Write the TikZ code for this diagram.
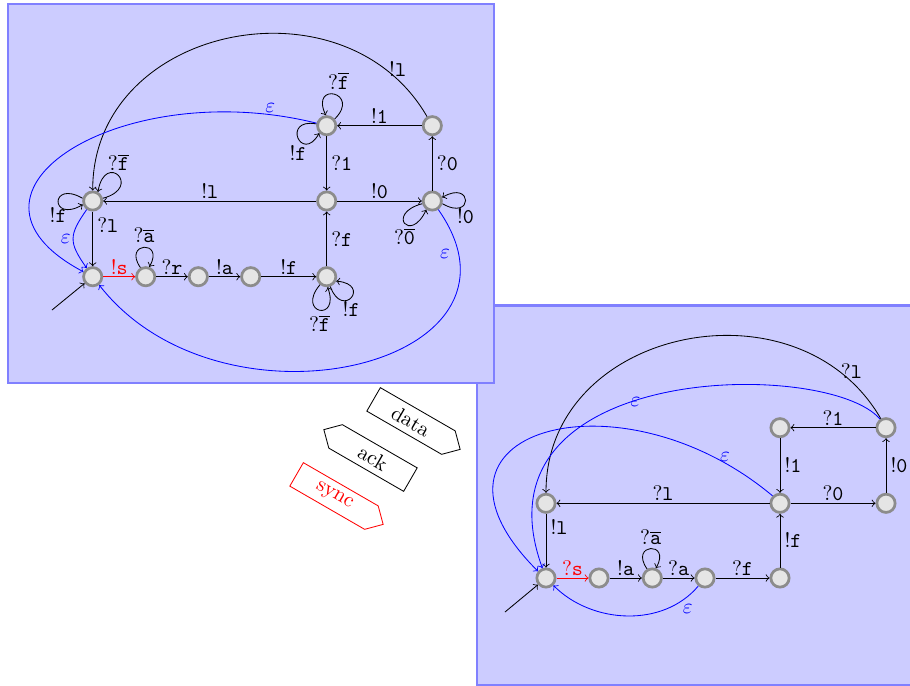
\documentclass[tikz,border=0pt]{standalone}
\usetikzlibrary{shapes.symbols}
\begin{document}
\begin{tikzpicture}[x=0.4762pt,y=0.4762pt,
  st/.style={circle,draw=black!45,fill=black!10,line width=1.3pt,minimum size=8.7pt,inner sep=0pt},
  lb/.style={inner sep=1pt},
  rl/.style={right,inner sep=2pt},
  ll/.style={inner sep=2pt},
  eps/.style={->,blue},
  el/.style={text=blue,inner sep=1pt},
  panel/.style={draw=blue!50,fill=blue!20,line width=1pt},
  sig/.style={signal,draw,rotate=-30,minimum width=47.6pt,minimum height=12.9pt,inner sep=1pt}]
\useasboundingbox (0,0) rectangle (910,-686);
% panels
\path[panel] (477,-305.5) rectangle (916,-685);
\path[panel] (8.3,-4) rectangle (494,-382.7);
% left automaton
\node[st] (A0) at (92.7,-276.7) {};
\node[st] (A1) at (145.7,-276.7) {};
\node[st] (A2) at (198.3,-276.7) {};
\node[st] (A3) at (250.7,-276.7) {};
\node[st] (A4) at (326.7,-276.7) {};
\node[st] (B0) at (92.7,-201) {};
\node[st] (B1) at (326.7,-201) {};
\node[st] (B2) at (432.3,-201) {};
\node[st] (C1) at (326.7,-125.7) {};
\node[st] (C2) at (432.3,-125.7) {};
\coordinate (i0) at (52,-310);
\draw[->] (i0) -- (A0);
\draw[->,red] (A0) -- node[above,lb]{$!\mathtt{s}$} (A1);
\draw[->] (A1) -- node[above,lb]{$?\mathtt{r}$} (A2);
\draw[->] (A2) -- node[above,lb]{$!\mathtt{a}$} (A3);
\draw[->] (A3) -- node[above,lb]{$!\mathtt{f}$} (A4);
\draw[->] (A4) -- node[rl]{$?\mathtt{f}$} (B1);
\draw[->] (B0) -- node[rl,pos=0.25]{$?\mathtt{l}$} (A0);
\draw[->] (B1) -- node[above,lb]{$!\mathtt{l}$} (B0);
\draw[->] (B1) -- node[above,lb]{$!\mathtt{0}$} (B2);
\draw[->] (B2) -- node[rl]{$?\mathtt{0}$} (C2);
\draw[->] (C2) -- node[above,lb]{$!\mathtt{1}$} (C1);
\draw[->] (C1) -- node[rl]{$?\mathtt{1}$} (B1);
\draw[->] (C2.120) .. controls +(120:78.6pt) and +(90:78.6pt) .. node[pos=0.1,above,lb]{$!\mathtt{l}$} (B0.90);
% loops left
\draw[->] (A1.120) .. controls +(125:15pt) and +(60:15pt) .. node[above,ll]{$?\overline{\mathtt{a}}$} (A1.70);
\draw[->] (B0.15) .. controls +(15:20pt) and +(80:20pt) .. node[above,ll]{$?\overline{\mathtt{f}}$} (B0.60);
\draw[->] (B0.165) .. controls +(150:18pt) and +(210:18pt) .. node[below,inner sep=3pt]{$!\mathtt{f}$} (B0.200);
\draw[->] (C1.40) .. controls +(45:18pt) and +(115:18pt) .. node[above,ll,xshift=2pt]{$?\overline{\mathtt{f}}$} (C1.95);
\draw[->] (C1.170) .. controls +(170:17pt) and +(240:17pt) .. node[below,inner sep=3.5pt]{$!\mathtt{f}$} (C1.225);
\draw[->] (B2.-15) .. controls +(-30:17pt) and +(30:17pt) .. node[below,inner sep=4pt]{$!\mathtt{0}$} (B2.20);
\draw[->] (B2.195) .. controls +(195:18pt) and +(245:18pt) .. node[below,ll]{$?\overline{\mathtt{0}}$} (B2.235);
\draw[->] (A4.230) .. controls +(230:18pt) and +(290:18pt) .. node[below,ll]{$?\overline{\mathtt{f}}$} (A4.275);
\draw[->] (A4.290) .. controls +(290:17pt) and +(355:17pt) .. node[below,ll]{$!\mathtt{f}$} (A4.335);
% epsilon left
\draw[eps] (C1.166) .. controls +(166:95pt) and +(152:81pt) .. node[pos=0.08,above,el]{$\varepsilon$} (A0.152);
\draw[eps] (B0.235) .. controls +(235:15pt) and +(125:15pt) .. node[left,el]{$\varepsilon$} (A0.125);
\draw[eps] (B2.-55) .. controls +(-55:90.5pt) and +(-52:95pt) .. node[pos=0.1,left,el,inner sep=4pt]{$\varepsilon$} (A0.-52);
% right automaton
\node[st] (a0) at (546,-578) {};
\node[st] (a1) at (599,-578) {};
\node[st] (a2) at (652.3,-578) {};
\node[st] (a3) at (705,-578) {};
\node[st] (a4) at (780,-578) {};
\node[st] (b0) at (546,-503.3) {};
\node[st] (b1) at (780,-503.3) {};
\node[st] (b2) at (886,-503.3) {};
\node[st] (c1) at (780,-427.7) {};
\node[st] (c2) at (886,-427.7) {};
\coordinate (i1) at (505,-612);
\draw[->] (i1) -- (a0);
\draw[->,red] (a0) -- node[above,lb]{$?\mathtt{s}$} (a1);
\draw[->] (a1) -- node[above,lb]{$!\mathtt{a}$} (a2);
\draw[->] (a2) -- node[above,lb]{$?\mathtt{a}$} (a3);
\draw[->] (a3) -- node[above,lb]{$?\mathtt{f}$} (a4);
\draw[->] (a4) -- node[rl]{$!\mathtt{f}$} (b1);
\draw[->] (b0) -- node[rl,pos=0.25]{$!\mathtt{l}$} (a0);
\draw[->] (b1) -- node[above,lb]{$?\mathtt{l}$} (b0);
\draw[->] (b1) -- node[above,lb]{$?\mathtt{0}$} (b2);
\draw[->] (b2) -- node[rl]{$!\mathtt{0}$} (c2);
\draw[->] (c2) -- node[above,lb]{$?\mathtt{1}$} (c1);
\draw[->] (c1) -- node[rl]{$!\mathtt{1}$} (b1);
\draw[->] (c2.120) .. controls +(120:78.6pt) and +(90:78.6pt) .. node[pos=0.1,above,lb]{$?\mathtt{l}$} (b0.90);
\draw[->] (a2.120) .. controls +(125:15pt) and +(60:15pt) .. node[above,ll]{$?\overline{\mathtt{a}}$} (a2.70);
\draw[eps] (c2.125) .. controls +(130:38pt) and +(110:105pt) .. node[pos=0.555,above,el,inner sep=0pt,yshift=-3pt]{$\varepsilon$} (a0.110);
\draw[eps] (b1.135) .. controls +(140:95pt) and +(135:95pt) .. node[pos=0.1,above,el,inner sep=0.5pt]{$\varepsilon$} (a0.140);
\draw[eps] (a3.230) .. controls +(230:26pt) and +(-45:26pt) .. node[pos=0.15,below right,el]{$\varepsilon$} (a0.-45);
% channels
\node[sig,signal to=east] (data) at (411,-421) {data};
\node[sig,signal to=west] (ack) at (373,-458) {ack};
\node[sig,signal to=east,draw=red,text=red] (sync) at (334,-496) {sync};
\end{tikzpicture}
\end{document}
